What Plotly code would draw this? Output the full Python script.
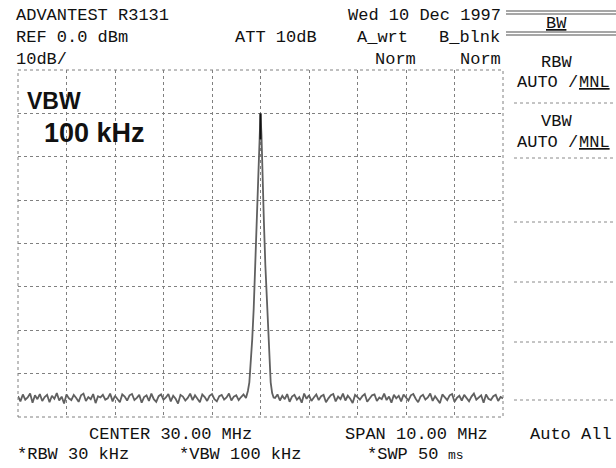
import plotly.graph_objects as go

# ---------------- data ----------------
center_mhz = 30.0
span_mhz = 10.0
ref_dbm = 0.0
db_per_div = 10
n_vdiv = 8

sweep_step = 0.05
noise_left_start = 25.00
noise_left = [
    -75.2,-76.4,-74.8,-76.0,-75.5,-74.6,-76.7,-75.0,-75.9,-74.7,
    -76.3,-75.4,-74.9,-76.6,-75.1,-75.8,-74.5,-76.2,-75.3,-76.9,
    -74.8,-75.7,-76.1,-74.9,-75.6,-76.5,-75.0,-74.6,-76.3,-75.4,
    -75.9,-74.7,-76.8,-75.2,-75.5,-74.9,-76.0,-75.7,-74.6,-76.4,
    -75.1,-75.8,-76.6,-74.8,-75.3,-76.2,-75.0,-74.7,-76.1,-75.6,
    -74.9,-76.7,-75.4,-75.0,-76.3,-74.6,-75.9,-76.5,-75.2,-74.8,
    -76.0,-75.5,-74.7,-76.4,-75.1,-75.8,-76.9,-74.9,-75.3,-76.2,
    -75.6,-74.6,-76.1,-75.0,-75.7,-76.6,-74.8,-75.4,-76.3,-75.1,
    -74.7,-75.9,-76.4,-75.2,-74.9,-76.0,-75.5,-74.6,-76.2,-75.3,
    -75.0,-76.1,-75.4,-74.8,-75.6,
]
peak_freq = [29.74, 29.77, 29.80, 29.83, 29.86, 29.89, 29.92, 29.95, 29.98, 30.00,
             30.02, 30.04, 30.07, 30.10, 30.14, 30.17, 30.19, 30.21, 30.24, 30.27]
peak_level = [-74.0, -72.0, -68.0, -62.0, -55.0, -45.0, -35.0, -25.0, -15.0, -10.0,
              -15.0, -25.0, -35.0, -45.0, -55.0, -62.0, -68.0, -72.0, -74.5, -75.5]
noise_right_start = 30.30
noise_right = [
    -75.6,-74.8,-76.2,-75.1,-75.9,-74.7,-76.5,-75.3,-74.9,-76.0,
    -75.4,-76.7,-74.6,-75.8,-75.0,-76.3,-75.5,-74.8,-76.1,-75.2,
    -74.9,-76.6,-75.7,-75.0,-74.7,-76.4,-75.3,-75.9,-74.6,-76.2,
    -75.1,-75.8,-76.8,-74.9,-75.4,-76.0,-75.2,-74.7,-76.5,-75.6,
    -75.0,-74.8,-76.3,-75.5,-75.9,-74.6,-76.1,-75.3,-76.7,-74.9,
    -75.7,-75.1,-76.4,-74.8,-75.6,-76.2,-75.0,-74.7,-75.8,-76.6,
    -75.3,-74.9,-76.0,-75.5,-74.6,-76.3,-75.2,-75.9,-76.8,-74.8,
    -75.4,-76.1,-75.0,-74.7,-76.5,-75.6,-75.1,-76.2,-74.9,-75.7,
    -76.4,-75.3,-74.6,-76.0,-75.5,-75.0,-76.7,-74.8,-75.8,-76.1,
    -75.2,-74.9,-76.3,-75.4,-75.7,
]
marker_freq = [30.0, 30.0]
marker_level = [-10.0, -16.0]

# ---------------- build trace ----------------
xs = [noise_left_start + i * sweep_step for i in range(len(noise_left))]
ys = list(noise_left)
xs += peak_freq
ys += peak_level
xs += [noise_right_start + i * sweep_step for i in range(len(noise_right))]
ys += noise_right

W, H = 616, 468
SL, SR, ST, SB = 18, 503, 70, 417   # plot-area box in screen pixels

def px(x):
    return (x - SL) / (SR - SL)

def py(y):
    return (SB - y) / (SB - ST)

fig = go.Figure()
fig.add_trace(go.Scatter(x=xs, y=ys, mode="lines",
                         line=dict(color="#606060", width=1.8),
                         hoverinfo="skip", showlegend=False))
fig.add_trace(go.Scatter(x=marker_freq, y=marker_level, mode="lines",
                         line=dict(color="#111", width=2),
                         hoverinfo="skip", showlegend=False))

x0 = center_mhz - span_mhz / 2
x1 = center_mhz + span_mhz / 2
ybot = ref_dbm - db_per_div * n_vdiv

grid = dict(showgrid=True, gridcolor="#808080", griddash="dot", gridwidth=1,
            zeroline=False, showticklabels=False, ticks="", showline=False)
fig.update_xaxes(range=[x0, x1], dtick=1, tick0=x0, **grid)
fig.update_yaxes(range=[ybot, ref_dbm], dtick=db_per_div, tick0=ybot, **grid)

shapes = []
shapes.append(dict(type="rect", xref="paper", yref="paper", x0=0, x1=1, y0=0, y1=1,
                   line=dict(color="#808080", width=1, dash="dot")))
for yy in (11, 14, 32, 35):
    shapes.append(dict(type="line", xref="paper", yref="paper",
                       x0=px(506), x1=px(616), y0=py(yy), y1=py(yy),
                       line=dict(color="#888", width=1.5)))
for yy in (103, 158, 222, 282, 342, 400):
    shapes.append(dict(type="line", xref="paper", yref="paper",
                       x0=px(514), x1=px(616), y0=py(yy), y1=py(yy),
                       line=dict(color="#8a8a8a", width=1, dash="dot")))

MONO = "Liberation Mono"
ann = []

def text(s, x, y, anchor="left", size=17, family=MONO, under=False, weight="normal"):
    f = dict(family=family, size=size, color="#111", weight=weight)
    if under:
        f["lineposition"] = "under"
    ann.append(dict(text=s, x=px(x), y=py(y), xref="paper", yref="paper",
                    xanchor=anchor, yanchor="middle", showarrow=False, font=f))

# header
text("ADVANTEST R3131", 14, 15)
text("Wed 10 Dec 1997", 503, 15, "right")
text("REF 0.0 dBm", 14, 38)
text("ATT 10dB", 233, 38)
text("A_wrt", 355, 38)
text("B_blnk", 502, 38, "right")
text("10dB/", 14, 59)
text("Norm", 418, 59, "right")
text("Norm", 503, 59, "right")
# in-plot annotation
text("VBW", 25, 101, size=23, family="Liberation Sans", weight="bold")
text("100 kHz", 42, 133, size=27, family="Liberation Sans", weight="bold")
# footer
text("CENTER 30.00 MHz", 87, 434)
text("SPAN 10.00 MHz", 343, 434)
text("Auto All", 528, 434)
text("*RBW 30 kHz", 15, 454)
text("*VBW 100 kHz", 177, 454)
text("*SWP 50", 365, 454)
text("ms", 446, 455, size=13)
# soft keys
text("BW", 556, 23, "center", under=True)
text("RBW", 556, 62, "center")
text("AUTO /", 515, 82)
text("MNL", 612, 82, "right", under=True)
text("VBW", 556, 122, "center")
text("AUTO /", 515, 142)
text("MNL", 612, 142, "right", under=True)

fig.update_layout(width=W, height=H, autosize=False,
                  margin=dict(l=SL, r=W - SR, t=ST, b=H - SB, pad=0),
                  paper_bgcolor="white", plot_bgcolor="white",
                  shapes=shapes, annotations=ann, showlegend=False)

fig.write_html("out.html",
               config={"displayModeBar": False},
               post_script="document.body.style.margin='0';"
                           "document.body.style.overflow='hidden';")
